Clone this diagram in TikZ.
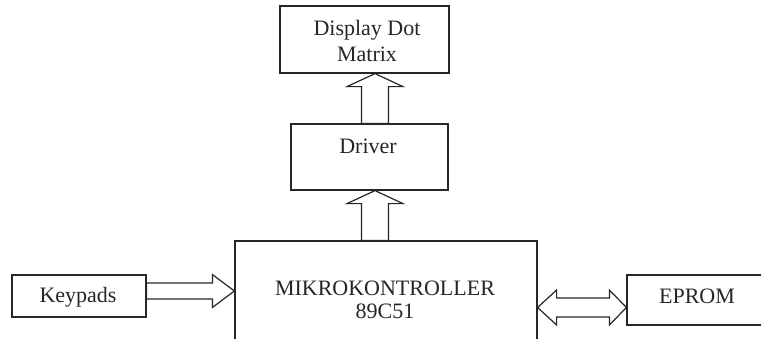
\documentclass[tikz,border=0pt]{standalone}
\usepackage{fontspec}
\setmainfont{Liberation Serif}
\usetikzlibrary{calc}
\begin{document}
\begin{tikzpicture}[x=0.75pt,y=-0.75pt,
  box/.style={draw=black!85,line width=0.9pt,rectangle,inner sep=0pt},
  lbl/.style={inner sep=0pt,align=center,text=black!85,font=\fontsize{16.5}{20}\selectfont},
  barrow/.style={draw=black!85,line width=0.9pt,fill=white,line join=miter}]
\useasboundingbox (0,0) rectangle (761,339);
\clip (0,0) rectangle (761,339);
% boxes
\node[box,minimum width=126.75pt,minimum height=50.25pt] (disp) at (364.5,39.5) {};
\node[box,minimum width=117.75pt,minimum height=49.5pt] (drv) at (369.5,157) {};
\node[box,minimum width=226.5pt,minimum height=119.25pt] (mcu) at (386,320.5) {};
\node[box,minimum width=100.5pt,minimum height=31.5pt] (key) at (79,296) {};
\node[box,minimum width=122.25pt,minimum height=37.5pt] (eprom) at (708.5,300) {};
% labels
\node[lbl] (tdisp) at (367,41) {Display Dot\\[-1pt]Matrix};
\node[lbl] (tdrv) at (368,146) {Driver};
\node[lbl] (tmcu) at (385,300) {MIKROKONTROLLER\\[-3pt]89C51};
\node[lbl] (tkey) at (78,297) {Keypads};
\node[lbl] (teprom) at (697,296) {EPROM};
% block arrows
\coordinate (ax) at (375,0);
\coordinate (t1) at (ax |- disp.south);
\coordinate (b1) at (ax |- drv.north);
\draw[barrow] (t1) -- ($(t1)+(28,13)$) -- ($(t1)+(13.5,13)$) -- ($(b1)+(13.5,0)$)
  -- ($(b1)+(-13.5,0)$) -- ($(t1)+(-13.5,13)$) -- ($(t1)+(-28,13)$) -- cycle;
\coordinate (t2) at (ax |- drv.south);
\coordinate (b2) at (ax |- mcu.north);
\draw[barrow] (t2) -- ($(t2)+(28,13)$) -- ($(t2)+(13.5,13)$) -- ($(b2)+(13.5,0)$)
  -- ($(b2)+(-13.5,0)$) -- ($(t2)+(-13.5,13)$) -- ($(t2)+(-28,13)$) -- cycle;
\coordinate (ay) at (0,291);
\coordinate (t3) at (ay -| mcu.west);
\coordinate (b3) at (ay -| key.east);
\draw[barrow] (t3) -- ($(t3)+(-22,-16.5)$) -- ($(t3)+(-22,-8)$) -- ($(b3)+(0,-8)$)
  -- ($(b3)+(0,8)$) -- ($(t3)+(-22,8)$) -- ($(t3)+(-22,16.5)$) -- cycle;
\coordinate (ay2) at (0,307.5);
\coordinate (l4) at (ay2 -| mcu.east);
\coordinate (r4) at (ay2 -| eprom.west);
\draw[barrow] (l4) -- ($(l4)+(19,-17.5)$) -- ($(l4)+(19,-9.5)$) -- ($(r4)+(-17,-9.5)$)
  -- ($(r4)+(-17,-17.5)$) -- (r4) -- ($(r4)+(-17,17.5)$) -- ($(r4)+(-17,9.5)$)
  -- ($(l4)+(19,9.5)$) -- ($(l4)+(19,17.5)$) -- cycle;
\end{tikzpicture}
\end{document}
